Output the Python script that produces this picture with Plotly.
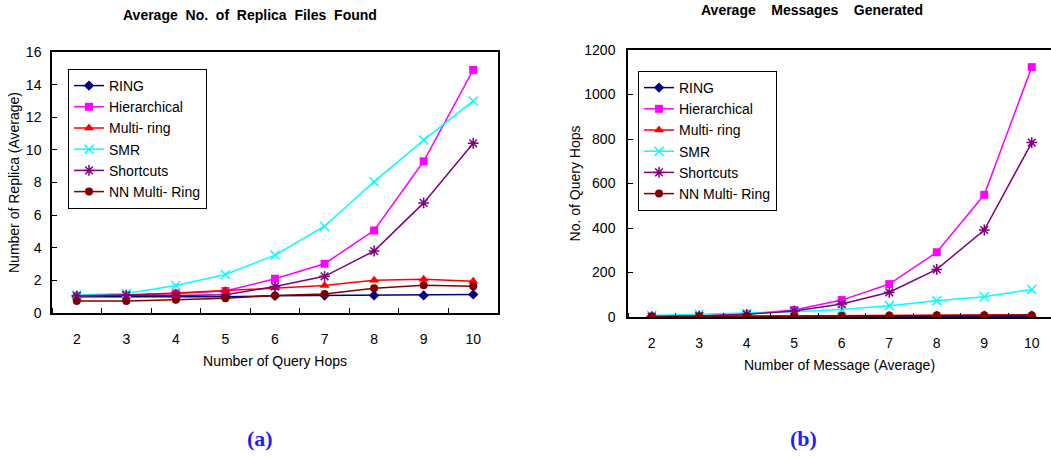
import plotly.graph_objects as go

hops = [2, 3, 4, 5, 6, 7, 8, 9, 10]
series_names = ["RING", "Hierarchical", "Multi- ring", "SMR", "Shortcuts", "NN Multi- Ring"]

# (a) Average No. of Replica Files Found
replica_ring = [1.0, 1.0, 1.0, 1.0, 1.05, 1.07, 1.08, 1.08, 1.14]
replica_hier = [1.05, 1.1, 1.2, 1.35, 2.1, 3.02, 5.06, 9.3, 14.9]
replica_multi = [1.05, 1.1, 1.22, 1.38, 1.55, 1.68, 2.0, 2.07, 1.95]
replica_smr = [1.1, 1.2, 1.68, 2.36, 3.55, 5.32, 8.05, 10.6, 13.0]
replica_short = [1.05, 1.1, 1.08, 1.12, 1.62, 2.25, 3.8, 6.75, 10.4]
replica_nn = [0.74, 0.74, 0.81, 0.9, 1.08, 1.16, 1.52, 1.7, 1.64]

# (b) Average Messages Generated
msg_ring = [1, 1, 1, 1, 1, 1, 1, 1, 1]
msg_hier = [2, 5, 13, 31, 76, 148, 291, 549, 1123]
msg_multi = [2, 3, 4, 5, 6, 8, 9, 10, 10]
msg_smr = [7, 12, 16, 24, 34, 51, 73, 91, 124]
msg_short = [2, 5, 12, 27, 58, 111, 214, 391, 784]
msg_nn = [2, 3, 4, 5, 6, 7, 8, 8, 8]

colors = ["#000080", "#FF00FF", "#FF0000", "#00FFFF", "#800080", "#800000"]
symbols = ["diamond", "square", "triangle-up", "x-thin-open", "asterisk-open", "circle"]
sizes = [8, 8, 9, 9, 9, 8]

FONT = "Liberation Sans, Arial, sans-serif"
W, H = 1051, 457

fig = go.Figure()

data_a = [replica_ring, replica_hier, replica_multi, replica_smr, replica_short, replica_nn]
data_b = [msg_ring, msg_hier, msg_multi, msg_smr, msg_short, msg_nn]

for i, name in enumerate(series_names):
    mk = dict(symbol=symbols[i], size=sizes[i], color=colors[i],
              line=dict(color=colors[i], width=1.5 if "open" in symbols[i] else 0))
    fig.add_trace(go.Scatter(x=hops, y=data_a[i], name=name, mode="lines+markers",
                             line=dict(color=colors[i], width=1.5), marker=mk,
                             xaxis="x", yaxis="y", legend="legend"))
for i, name in enumerate(series_names):
    mk = dict(symbol=symbols[i], size=sizes[i], color=colors[i],
              line=dict(color=colors[i], width=1.5 if "open" in symbols[i] else 0))
    fig.add_trace(go.Scatter(x=hops, y=data_b[i], name=name, mode="lines+markers",
                             line=dict(color=colors[i], width=1.5), marker=mk,
                             xaxis="x2", yaxis="y2", legend="legend2"))

half = [1.5 + k for k in range(10)]
axfont = dict(family=FONT, size=14, color="black")
titlefont = dict(family=FONT, size=14, color="black")

fig.update_layout(
    width=W, height=H,
    margin=dict(l=0, r=0, t=0, b=0, autoexpand=False),
    paper_bgcolor="white", plot_bgcolor="white",
    font=dict(family=FONT, size=14, color="black"),
    xaxis=dict(domain=[52 / W, 498 / W], range=[1.5, 10.5], tickvals=hops,
               ticks="", showgrid=False, zeroline=False, automargin=False,
               showline=True, linecolor="black", linewidth=1.5, mirror=True,
               tickfont=axfont, ticklabelstandoff=12,
               minor=dict(tickvals=half, ticks="inside", ticklen=5, tickcolor="black"),
               title=dict(text="Number of Query Hops", font=titlefont, standoff=11),
               anchor="y"),
    yaxis=dict(domain=[1 - 313 / H, 1 - 52 / H], range=[0, 16], dtick=2,
               ticks="inside", ticklen=5, tickcolor="black",
               showgrid=False, zeroline=False, automargin=False,
               showline=True, linecolor="black", linewidth=1.5, mirror=True,
               tickfont=axfont, ticklabelstandoff=6,
               title=dict(text="Number of Replica (Average)", font=titlefont, standoff=3),
               anchor="x"),
    xaxis2=dict(domain=[628 / W, 1.0], range=[1.5, 10.405], tickvals=hops,
                ticks="", showgrid=False, zeroline=False, automargin=False,
                showline=True, linecolor="black", linewidth=1.5, mirror=True,
                tickfont=axfont, ticklabelstandoff=12,
                minor=dict(tickvals=half, ticks="inside", ticklen=4, tickcolor="black"),
                title=dict(text="Number of Message (Average)", font=titlefont, standoff=11),
                anchor="y2"),
    yaxis2=dict(domain=[1 - 317 / H, 1 - 50 / H], range=[0, 1200], dtick=200,
                ticks="inside", ticklen=5, tickcolor="black",
                showgrid=False, zeroline=False, automargin=False,
                showline=True, linecolor="black", linewidth=1.5, mirror=False,
                tickfont=axfont, ticklabelstandoff=8,
                title=dict(text="No. of Query Hops", font=titlefont, standoff=0),
                anchor="x2"),
    legend=dict(x=68 / W, y=1 - 69 / H, xanchor="left", yanchor="top",
                bgcolor="white", bordercolor="black", borderwidth=1,
                font=dict(family=FONT, size=14), itemwidth=30,
                tracegroupgap=0),
    legend2=dict(x=638 / W, y=1 - 71 / H, xanchor="left", yanchor="top",
                 bgcolor="white", bordercolor="black", borderwidth=1,
                 font=dict(family=FONT, size=14), itemwidth=30,
                 tracegroupgap=0),
    annotations=[
        dict(text="<b>Average  No.  of  Replica  Files  Found</b>", x=250 / W, y=1 - 15 / H,
             xref="paper", yref="paper", showarrow=False, xanchor="center", yanchor="middle",
             font=dict(family=FONT, size=14, color="black")),
        dict(text="<b>Average    Messages    Generated</b>", x=812 / W, y=1 - 10 / H,
             xref="paper", yref="paper", showarrow=False, xanchor="center", yanchor="middle",
             font=dict(family=FONT, size=14, color="black")),
        dict(text="<b>(a)</b>", x=260 / W, y=1 - 438 / H,
             xref="paper", yref="paper", showarrow=False, xanchor="center", yanchor="middle",
             font=dict(family="Liberation Serif, Times New Roman, serif", size=22, color="#1F1FF5")),
        dict(text="<b>(b)</b>", x=803 / W, y=1 - 438 / H,
             xref="paper", yref="paper", showarrow=False, xanchor="center", yanchor="middle",
             font=dict(family="Liberation Serif, Times New Roman, serif", size=22, color="#1F1FF5")),
    ],
)

fig.write_html("out.html", config={"displayModeBar": False},
               post_script="document.body.style.margin='0';document.body.style.overflow='hidden';")
